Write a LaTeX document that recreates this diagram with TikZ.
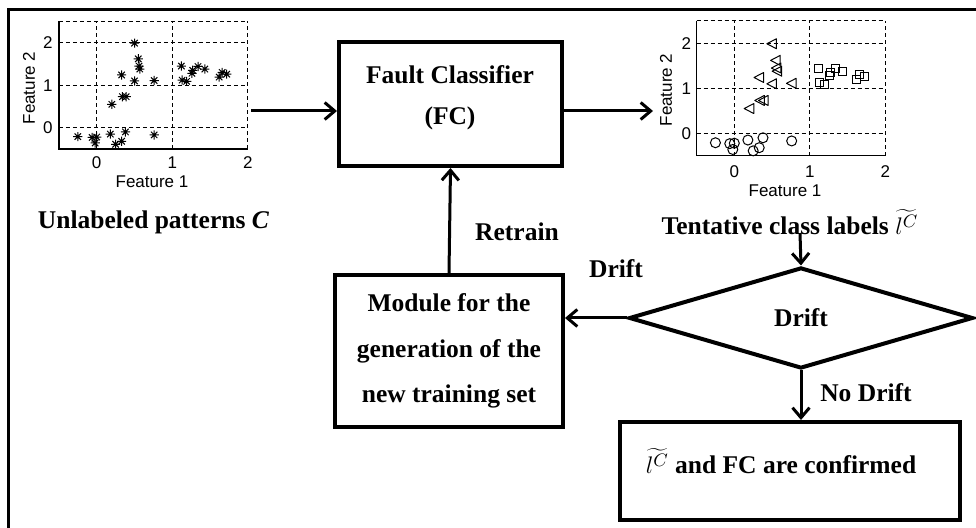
\documentclass[tikz,border=0pt]{standalone}
\usepackage{fontspec}
\setmainfont{Liberation Serif}
\newfontfamily\axisfont{Liberation Sans}
\usetikzlibrary{arrows.meta,shapes.geometric}

% point clusters of the two feature plots (Feature 1 / Feature 2)
\def\clusterA{-0.25/-0.21,-0.06/-0.23,0/-0.22,-0.02/-0.36,0.18/-0.15,0.25/-0.39,0.33/-0.32,0.38/-0.1,0.76/-0.17}
\def\clusterB{0.5/1.99,0.55/1.62,0.56/1.45,0.57/1.38,0.33/1.24,0.5/1.1,0.76/1.11,0.2/0.55,0.34/0.73,0.39/0.73}
\def\clusterC{1.12/1.45,1.13/1.12,1.19/1.09,1.26/1.28,1.27/1.35,1.34/1.44,1.43/1.38,1.62/1.19,1.66/1.3,1.72/1.26}

\tikzset{
  px/.style={x=0.5pt,y=-0.5pt},
  blockbox/.style={draw, line width=2pt, inner sep=0pt},
  flow/.style={line width=1.5pt, -{Straight Barb[length=5pt,width=8.5pt]}},
  lbl/.style={font=\fontsize{12.75}{22.75}\selectfont\bfseries, inner sep=0pt, align=center},
  axtext/.style={font=\axisfont\fontsize{8.5}{10}\selectfont, inner sep=0pt},
  gridline/.style={line width=0.5pt, dash pattern=on 2pt off 1.5pt},
  mk/.style={line width=0.5pt},
  ast/.pic={\draw[mk] (-2.3pt,0)--(2.3pt,0) (0,-2.3pt)--(0,2.3pt)
            (-1.6pt,-1.6pt)--(1.6pt,1.6pt) (-1.6pt,1.6pt)--(1.6pt,-1.6pt);},
  ltri/.pic={\draw[mk,line join=round] (-2.6pt,0)--(2.2pt,2.5pt)--(2.2pt,-2.5pt)--cycle;},
  circ/.pic={\draw[mk] (0,0) circle[radius=2.5pt];},
  sqr/.pic={\draw[mk] (-2pt,-2pt) rectangle (2pt,2pt);}
}

% axes frame and dashed grid in data units
\newcommand\featuregrid{%
  \draw[gridline] (0,-0.5)--(0,2.5) (1,-0.5)--(1,2.5) (2,-0.5)--(2,2.5)
                  (-0.5,0)--(2,0) (-0.5,1)--(2,1) (-0.5,2)--(2,2) (-0.5,2.5)--(2,2.5);
  \draw[line width=0.7pt] (-0.5,2.5)--(-0.5,-0.5)--(2,-0.5);
}
% tentative label symbol: l^C under a wide tilde
\newcommand\tentlabel{$\widetilde{l^{C}}$}

\begin{document}
\begin{tikzpicture}[px]
\useasboundingbox (0,0) rectangle (976,528);

% outer frame
\draw[line width=1.5pt] (8,540) -- (8,10) -- (990,10);

% ---------- left plot: unlabeled patterns ----------
\begin{scope}[shift={(96.7,127.7)}, x=37.8pt, y=21.25pt]
  \featuregrid
  \foreach \x/\y in \clusterA {\pic at (\x,\y) {ast};}
  \foreach \x/\y in \clusterB {\pic at (\x,\y) {ast};}
  \foreach \x/\y in \clusterC {\pic at (\x,\y) {ast};}
  \node[axtext, anchor=east] (lyt2) at ([xshift=-3pt]-0.5,2) {2};
  \node[axtext, anchor=east] (lyt1) at ([xshift=-3pt]-0.5,1) {1};
  \node[axtext, anchor=east] (lyt0) at ([xshift=-3pt]-0.5,0) {0};
  \node[axtext] (lxt0) at ([yshift=-7pt]0,-0.5) {0};
  \node[axtext] (lxt1) at ([yshift=-7pt]1,-0.5) {1};
  \node[axtext] (lxt2) at ([yshift=-7pt]2,-0.5) {2};
\end{scope}
\node[axtext] (lxlab) at (152,182) {Feature 1};
\node[axtext, rotate=90] (lylab) at (29,88) {Feature 2};
\node[lbl] (unl) at (153.5,222) {Unlabeled patterns \textit{C}};

% ---------- right plot: tentative classes ----------
\begin{scope}[shift={(734.3,133.3)}, x=37.75pt, y=22.5pt]
  \featuregrid
  \foreach \x/\y in \clusterA {\pic at (\x,\y) {circ};}
  \foreach \x/\y in \clusterB {\pic at (\x,\y) {ltri};}
  \foreach \x/\y in \clusterC {\pic at (\x,\y) {sqr};}
  \node[axtext, anchor=east] (ryt2) at ([xshift=-2.5pt]-0.5,2) {2};
  \node[axtext, anchor=east] (ryt1) at ([xshift=-2.5pt]-0.5,1) {1};
  \node[axtext, anchor=east] (ryt0) at ([xshift=-2.5pt]-0.5,0) {0};
  \node[axtext] (rxt0) at ([yshift=-8pt]0,-0.5) {0};
  \node[axtext] (rxt1) at ([yshift=-8pt]1,-0.5) {1};
  \node[axtext] (rxt2) at ([yshift=-8pt]2,-0.5) {2};
\end{scope}
\node[axtext] (rxlab) at (785,191) {Feature 1};
\node[axtext, rotate=90] (rylab) at (666,90) {Feature 2};
\node[lbl] (tent) at (790,222) {Tentative class labels \tentlabel};

% ---------- blocks ----------
\node[blockbox, minimum width=111.5pt, minimum height=62pt] (fc) at (450.5,104) {};
\node[lbl] (fct1) at (450,75) {Fault Classifier};
\node[lbl] (fct2) at (450,118) {(FC)};

\node[blockbox, lbl, minimum width=114pt, minimum height=76pt] (mod) at (449,351)
  {Module for the\\generation of the\\new training set};

\node[diamond, draw, line width=2pt, inner sep=0pt, aspect=3.4,
      minimum width=172pt, minimum height=50.5pt, font=\fontsize{12.75}{15}\selectfont\bfseries]
  (dr) at (801,318) {Drift};

\node[blockbox, minimum width=170pt, minimum height=49pt] (conf) at (790,471) {};
\node[lbl] (conft) at (781,461) {\tentlabel{} and FC are confirmed};

% ---------- connector labels ----------
\node[lbl] (retr) at (517,232) {Retrain};
\node[lbl] (drl) at (616,269) {Drift};
\node[lbl] (nodr) at (866,393) {No Drift};

% ---------- connectors ----------
\coordinate (inL) at (251,111);
\coordinate (outR) at (653,111);
\coordinate (tentb) at (800,233);
\draw[flow] (inL) -- (inL -| fc.west);
\draw[flow] (fc.east |- inL) -- (outR);
\draw[flow] (tentb) -- (dr.north);
\draw[flow] (dr.west) -- (dr.west -| mod.east);
\draw[flow] (mod.north) -- (fc.south);
\draw[flow] (dr.south) -- (dr.south |- conf.north);
\end{tikzpicture}
\end{document}
